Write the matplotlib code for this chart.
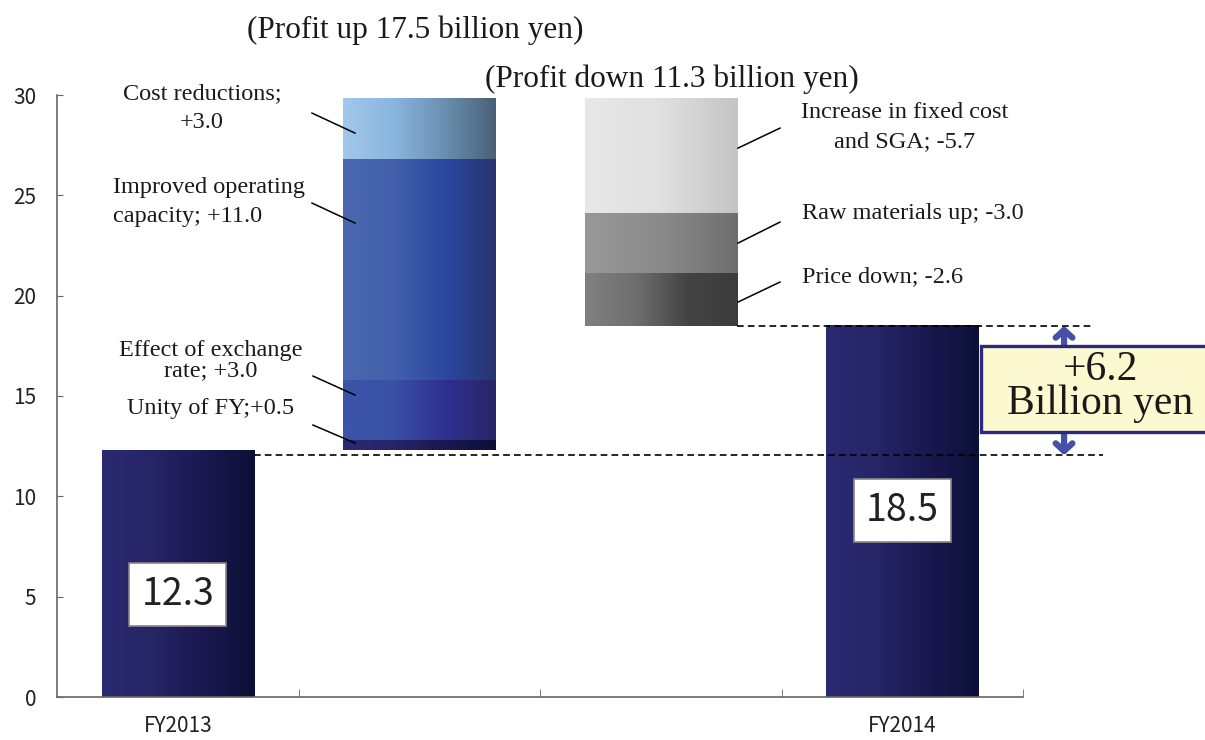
import matplotlib
matplotlib.use("Agg")
import matplotlib.pyplot as plt
import numpy as np
from matplotlib.colors import LinearSegmentedColormap
from matplotlib.patches import Rectangle

# ---- data (billion yen) ----
categories = ['FY2013', '', '', 'FY2014']
start_value = 12.3
end_value = 18.5
up_labels = ['Unity of FY;+0.5', 'Effect of exchange\nrate; +3.0',
             'Improved operating\ncapacity; +11.0', 'Cost reductions;\n+3.0']
up_values = [0.5, 3.0, 11.0, 3.0]
down_labels = ['Increase in fixed cost\nand SGA; -5.7', 'Raw materials up; -3.0',
               'Price down; -2.6']
down_values = [5.7, 3.0, 2.6]
change_text = '+6.2\nBillion yen'

plt.rcParams['font.family'] = ['Noto Sans CJK JP', 'DejaVu Sans']
SERIF = 'Liberation Serif'

navy = ['#2a2a72', '#262566', '#1a1850', '#0c1038']
up_colors = [navy,
             ['#3a55a8', '#3a50a4', '#2e3090', '#2a2568'],
             ['#4a68b0', '#4460ac', '#2a48a0', '#283470'],
             ['#a2c8ea', '#8ab5de', '#6a8fb0', '#4a6078']]
down_colors = [['#e8e8e8', '#e0e0e0', '#c4c4c4'],
               ['#989898', '#8a8a8a', '#6e6e6e'],
               ['#808080', '#6e6e6e', '#444444', '#3c3c3c']]


def gradient_fill(ax, bars, color_lists):
    """Overlay a left-to-right gradient on each bar"""
    grad = np.linspace(0, 1, 256).reshape(1, -1)
    for bar, cols in zip(bars, color_lists):
        cmap = LinearSegmentedColormap.from_list('g', cols)
        x0, y0 = bar.get_x(), bar.get_y()
        ax.imshow(grad, extent=[x0, x0 + bar.get_width(), y0, y0 + bar.get_height()],
                  aspect='auto', cmap=cmap, zorder=2, interpolation='bicubic')


fig = plt.figure(figsize=(12.05, 7.4), dpi=100)
ax = fig.add_axes([57 / 1205, 1 - 697 / 740, (1023 - 57) / 1205, (697 - 95) / 740])

x = np.arange(len(categories))
width = 0.63

# totals
tot = ax.bar([x[0], x[3]], [start_value, end_value], width=width, color=navy[0], zorder=1)
gradient_fill(ax, tot, [navy, navy])

# increases stacked on FY2013
up_bottoms = start_value + np.concatenate([[0], np.cumsum(up_values)[:-1]])
ups = ax.bar([x[1]] * len(up_values), up_values, bottom=up_bottoms, width=width, zorder=1)
gradient_fill(ax, ups, up_colors)
peak = start_value + sum(up_values)

# decreases hanging from the peak
down_tops = peak - np.concatenate([[0], np.cumsum(down_values)[:-1]])
downs = ax.bar([x[2]] * len(down_values), down_values,
               bottom=down_tops - np.array(down_values), width=width, zorder=1)
gradient_fill(ax, downs, down_colors)

ax.set_xlim(-0.5, 3.5)
ax.set_ylim(0, 30)

# axes styling
for s in ['top', 'right']:
    ax.spines[s].set_visible(False)
for s in ['left', 'bottom']:
    ax.spines[s].set_color('#666666')
    ax.spines[s].set_linewidth(1.2)
ax.set_yticks(np.arange(0, 31, 5))
ax.tick_params(axis='y', direction='in', length=4.5, color='#666666',
               labelsize=15, labelcolor='#222222', pad=15)
ax.set_xticks(x)
ax.set_xticklabels(categories)
ax.set_xticks([0.5, 1.5, 2.5, 3.5], minor=True)
ax.tick_params(axis='x', which='major', length=0, labelsize=15,
               labelcolor='#222222', pad=13)
ax.tick_params(axis='x', which='minor', direction='in', length=6, color='#666666')

# value boxes
box = dict(boxstyle='square,pad=0.32', fc='white', ec='#888888', lw=1.2)
ax.text(x[0], 5.1, f'{start_value:.1f}', ha='center', va='center', fontsize=27,
        color='#222222', bbox=box, zorder=5)
ax.text(x[3], 9.3, f'{end_value:.1f}', ha='center', va='center', fontsize=27,
        color='#222222', bbox=box, zorder=5)

# headings
fig.text(415 / 1205, 1 - 30 / 740, f'(Profit up {sum(up_values):.1f} billion yen)',
         ha='center', va='center', fontsize=22.5, family=SERIF, color='#1a1a1a')
fig.text(672 / 1205, 1 - 79 / 740, f'(Profit down {sum(down_values):.1f} billion yen)',
         ha='center', va='center', fontsize=22.5, family=SERIF, color='#1a1a1a')

# leader lines + labels for increases
lab_kw = dict(fontsize=17.5, family=SERIF, color='#1a1a1a', va='center', clip_on=False)
up_text_pos = [(211, 408, 'center', 1.2), (211, 361, 'center', 0.95),
               (113, 202, 'left', 1.45), (202, 108, 'center', 1.45)]
up_leaders = [((313, 425), (355, 443)), ((313, 376), (355, 395)),
              ((312, 203), (355, 223)), ((312, 113), (355, 133))]


def px2data(px, py):
    return (px - 57) / 241.5 - 0.5, (697 - py) / 20.07


for lab, (tx, ty, ha, ls), (p0, p1) in zip(up_labels, up_text_pos, up_leaders):
    dx, dy = px2data(tx, ty)
    ax.text(dx, dy, lab, ha=ha, multialignment=ha, linespacing=ls, **lab_kw)
    (ax0, ay0), (ax1, ay1) = px2data(*p0), px2data(*p1)
    ax.plot([ax0, ax1], [ay0, ay1], color='black', lw=1.1, zorder=4, clip_on=False)

down_text_pos = [(905, 127, 'center'), (802, 213, 'left'), (802, 277, 'left')]
down_leaders = [((738, 148), (780, 128)), ((738, 243), (780, 222)),
                ((738, 302), (780, 282))]
for lab, (tx, ty, ha), (p0, p1) in zip(down_labels, down_text_pos, down_leaders):
    dx, dy = px2data(tx, ty)
    ax.text(dx, dy, lab, ha=ha, multialignment=ha, linespacing=1.45, **lab_kw)
    (ax0, ay0), (ax1, ay1) = px2data(*p0), px2data(*p1)
    ax.plot([ax0, ax1], [ay0, ay1], color='black', lw=1.1, zorder=4, clip_on=False)

# dashed reference lines
ax.plot([x[0] + width / 2, 3.83], [start_value - 0.25, start_value - 0.25], color='black',
        lw=1.2, dashes=[4, 2.5], zorder=3, clip_on=False)
ax.plot([x[2] + width / 2, 3.79], [end_value, end_value], color='black',
        lw=1.2, dashes=[4, 2.5], zorder=3, clip_on=False)

# double arrow and difference box
ax.annotate('', xy=(3.67, end_value), xytext=(3.67, start_value - 0.25),
            arrowprops=dict(arrowstyle='<->,head_length=0.55,head_width=0.6',
                            color='#4550a8', lw=4.5, shrinkA=0, shrinkB=0),
            zorder=5, annotation_clip=False)
ax.add_patch(Rectangle((3.326, 13.2), 1.0, 4.3, fc='#fcf8d0', ec='#2a2a78',
                       lw=2.4, zorder=6, clip_on=False))
ax.text(3.82, 15.45, change_text, ha='center', va='center', fontsize=30,
        family=SERIF, color='#1a1a1a', zorder=7, clip_on=False, linespacing=0.85)

fig.savefig('out.png', dpi=100)
plt.close(fig)
